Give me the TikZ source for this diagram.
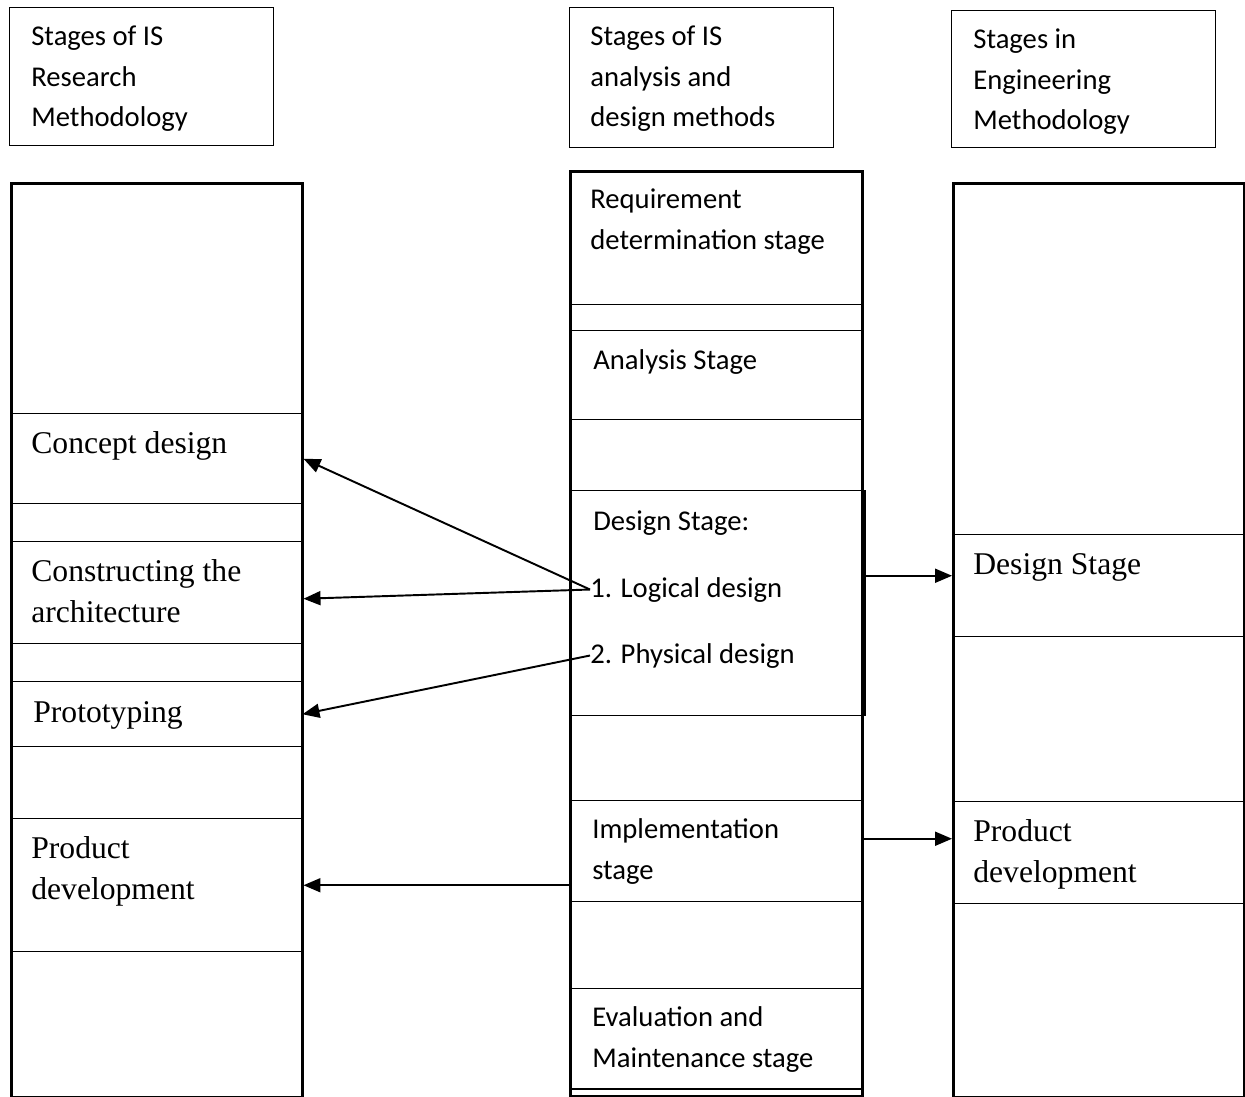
\documentclass[tikz,border=0pt]{standalone}
\usepackage{fontspec}
\setmainfont{Carlito}
\newfontfamily\timesfont{Liberation Serif}
\usetikzlibrary{arrows.meta,calc,positioning}
\tikzset{
  headbox/.style={draw,line width=0.75pt,inner sep=0pt,anchor=north west,minimum width=5.28cm},
  colframe/.style={draw,line width=1.7pt,inner sep=0pt,anchor=north west},
  stagebox/.style={draw,line width=0.85pt,inner sep=0pt,anchor=north west},
  sanstext/.style={anchor=base west,inner sep=0pt,align=left,font=\fontsize{16.3}{23.3}\selectfont},
  seriftext/.style={anchor=base west,inner sep=0pt,align=left,font=\timesfont\fontsize{18}{23.3}\selectfont},
  maparrow/.style={-{Triangle[length=0.34cm,width=0.28cm]},line width=1.1pt}
}
\begin{document}
\begin{tikzpicture}
  \useasboundingbox (0,0) rectangle (24.9,-21.94);
  % headers (text placed at the baseline of its last line)
  \node[headbox,minimum height=2.76cm] (lhead) at (0.18,-0.14) {};
  \node[headbox,minimum height=2.80cm] (mhead) at (11.38,-0.14) {};
  \node[headbox,minimum height=2.74cm] (rhead) at (19.02,-0.20) {};
  \node[sanstext] (lheadtxt) at (0.62,-2.54) {Stages of IS\\Research\\Methodology};
  \node[sanstext] (mheadtxt) at (11.80,-2.54) {Stages of IS\\analysis and\\design methods};
  \node[sanstext] (rheadtxt) at (19.46,-2.60) {Stages in\\Engineering\\Methodology};
  % IS research methodology
  \node[stagebox,minimum width=5.84cm,minimum height=1.80cm] (concept) at (0.20,-8.26) {};
  \node[stagebox,minimum width=5.84cm,minimum height=2.04cm] (construct) at (0.20,-10.82) {};
  \node[stagebox,minimum width=5.78cm,minimum height=1.30cm] (proto) at (0.24,-13.62) {};
  \node[stagebox,minimum width=5.84cm,minimum height=2.66cm] (lprod) at (0.20,-16.36) {};
  \node[seriftext] (concepttxt) at (0.62,-9.06) {Concept design};
  \node[seriftext] (constructtxt) at (0.62,-12.45) {Constructing the\\architecture};
  \node[seriftext] (prototxt) at (0.66,-14.44) {Prototyping};
  \node[seriftext] (lprodtxt) at (0.62,-17.98) {Product\\development};
  % IS analysis and design
  \node[stagebox,minimum width=5.84cm,minimum height=2.68cm] (req) at (11.38,-3.40) {};
  \node[stagebox,minimum width=5.84cm,minimum height=1.78cm] (analysis) at (11.38,-6.60) {};
  \node[stagebox,minimum width=5.86cm,minimum height=4.50cm] (design) at (11.42,-9.80) {};
  \node[stagebox,minimum width=5.84cm,minimum height=2.02cm] (impl) at (11.38,-16.00) {};
  \node[stagebox,minimum width=5.84cm,minimum height=2.00cm] (eval) at (11.38,-19.76) {};
  \node[sanstext] (reqtxt) at (11.80,-4.98) {Requirement\\determination stage};
  \node[sanstext] (analysistxt) at (11.86,-7.38) {Analysis Stage};
  \node[sanstext] (designtxt) at (11.86,-10.60) {Design Stage:};
  \node[sanstext] (logical) at (11.80,-11.94) {1. Logical design};
  \node[sanstext] (physical) at (11.80,-13.26) {2. Physical design};
  \node[sanstext] (impltxt) at (11.84,-17.58) {Implementation\\stage};
  \node[sanstext] (evaltxt) at (11.84,-21.34) {Evaluation and\\Maintenance stage};
  % engineering methodology
  \node[stagebox,minimum width=5.82cm,minimum height=2.04cm] (rdesign) at (19.04,-10.68) {};
  \node[stagebox,minimum width=5.82cm,minimum height=2.04cm] (rprod) at (19.04,-16.02) {};
  \node[seriftext] (rdesigntxt) at (19.46,-11.48) {Design Stage};
  \node[seriftext] (rprodtxt) at (19.46,-17.64) {Product\\development};
  % column frames
  \node[colframe,minimum width=5.82cm,minimum height=18.28cm] (lcol) at (0.20,-3.64) {};
  \node[colframe,minimum width=5.84cm,minimum height=18.50cm] (mcol) at (11.38,-3.40) {};
  \node[colframe,minimum width=5.82cm,minimum height=18.28cm] (rcol) at (19.04,-3.64) {};
  % mappings
  \draw[maparrow] (logical.west) -- (concept.east);
  \draw[maparrow] (logical.west) -- ([yshift=-0.12cm]construct.east);
  \draw[maparrow] (physical.west) -- (proto.east);
  \draw[maparrow] (impl.west |- lprod.east) -- (lprod.east);
  \draw[maparrow] ([yshift=0.55cm]design.east) -- ([yshift=0.55cm]design.east -| rdesign.west);
  \draw[maparrow] ([yshift=0.25cm]impl.east) -- ([yshift=0.25cm]impl.east -| rprod.west);
\end{tikzpicture}
\end{document}
